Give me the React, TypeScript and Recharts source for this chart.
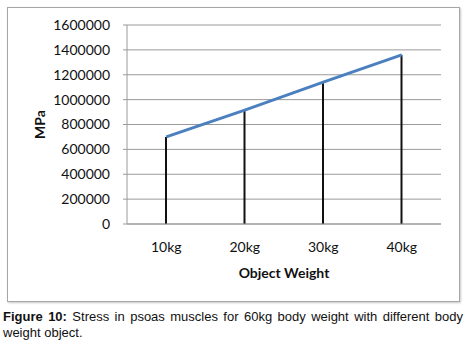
import { ComposedChart, Line, Bar, XAxis, YAxis, CartesianGrid, Label } from 'recharts';

const weights = ['10kg', '20kg', '30kg', '40kg'];
const stress = [700000, 915000, 1140000, 1360000];
const yTicks = [0, 200000, 400000, 600000, 800000, 1000000, 1200000, 1400000, 1600000];

const data = weights.map((w, i) => ({ weight: w, stress: stress[i] }));

const tickFont = { fontFamily: 'Lato, "Open Sans", sans-serif', fontSize: 14, fill: '#111' };
const titleFont = { fontFamily: 'Lato, "Open Sans", sans-serif', fontSize: 14, fontWeight: 'bold', fill: '#111' };

export default function App() {
  return (
    <div style={{ position: 'absolute', left: 0, top: 0, width: 476, height: 350, background: '#fff' }}>
      {/* chart frame */}
      <div
        style={{
          position: 'absolute',
          left: 7,
          top: 7,
          width: 453,
          height: 295,
          boxSizing: 'border-box',
          border: '1px solid #a6a6a6',
          boxShadow: '1px 1px 2px #c8c8c8',
        }}
      />
      <div style={{ position: 'absolute', left: 0, top: 0 }}>
        <ComposedChart width={476} height={302} data={data} margin={{ top: 25, right: 35, bottom: 0, left: 0 }}>
          <CartesianGrid vertical={false} stroke="#9a9a9a" />
          <XAxis
            dataKey="weight"
            height={78}
            stroke="#9a9a9a"
            tickLine={false}
            tickSize={0}
            tickMargin={18}
            tick={tickFont}
          >
            <Label value="Object Weight" position="center" dy={10} style={titleFont} />
          </XAxis>
          <YAxis
            width={127}
            domain={[0, 1600000]}
            ticks={yTicks}
            interval={0}
            stroke="#9a9a9a"
            tickSize={4}
            tickMargin={13}
            tick={tickFont}
          >
            <Label value="MPa" angle={-90} position="center" dx={-23} style={titleFont} />
          </YAxis>
          {/* thin black drop lines from each point to the axis */}
          <Bar dataKey="stress" barSize={2} fill="#111" isAnimationActive={false} />
          <Line
            type="linear"
            dataKey="stress"
            stroke="#4a7fc0"
            strokeWidth={3}
            dot={false}
            activeDot={false}
            isAnimationActive={false}
          />
        </ComposedChart>
      </div>
      <div
        style={{
          position: 'absolute',
          left: 3,
          top: 309,
          width: 460,
          fontFamily: '"Liberation Sans", Arial, sans-serif',
          fontSize: 13,
          lineHeight: '16px',
          color: '#111',
        }}
      >
        <div style={{ textAlign: 'justify', textAlignLast: 'justify' }}>
          <b>Figure 10:</b> <span>Stress in psoas muscles for 60kg body weight with different body</span>
        </div>
        <div>weight object.</div>
      </div>
    </div>
  );
}
